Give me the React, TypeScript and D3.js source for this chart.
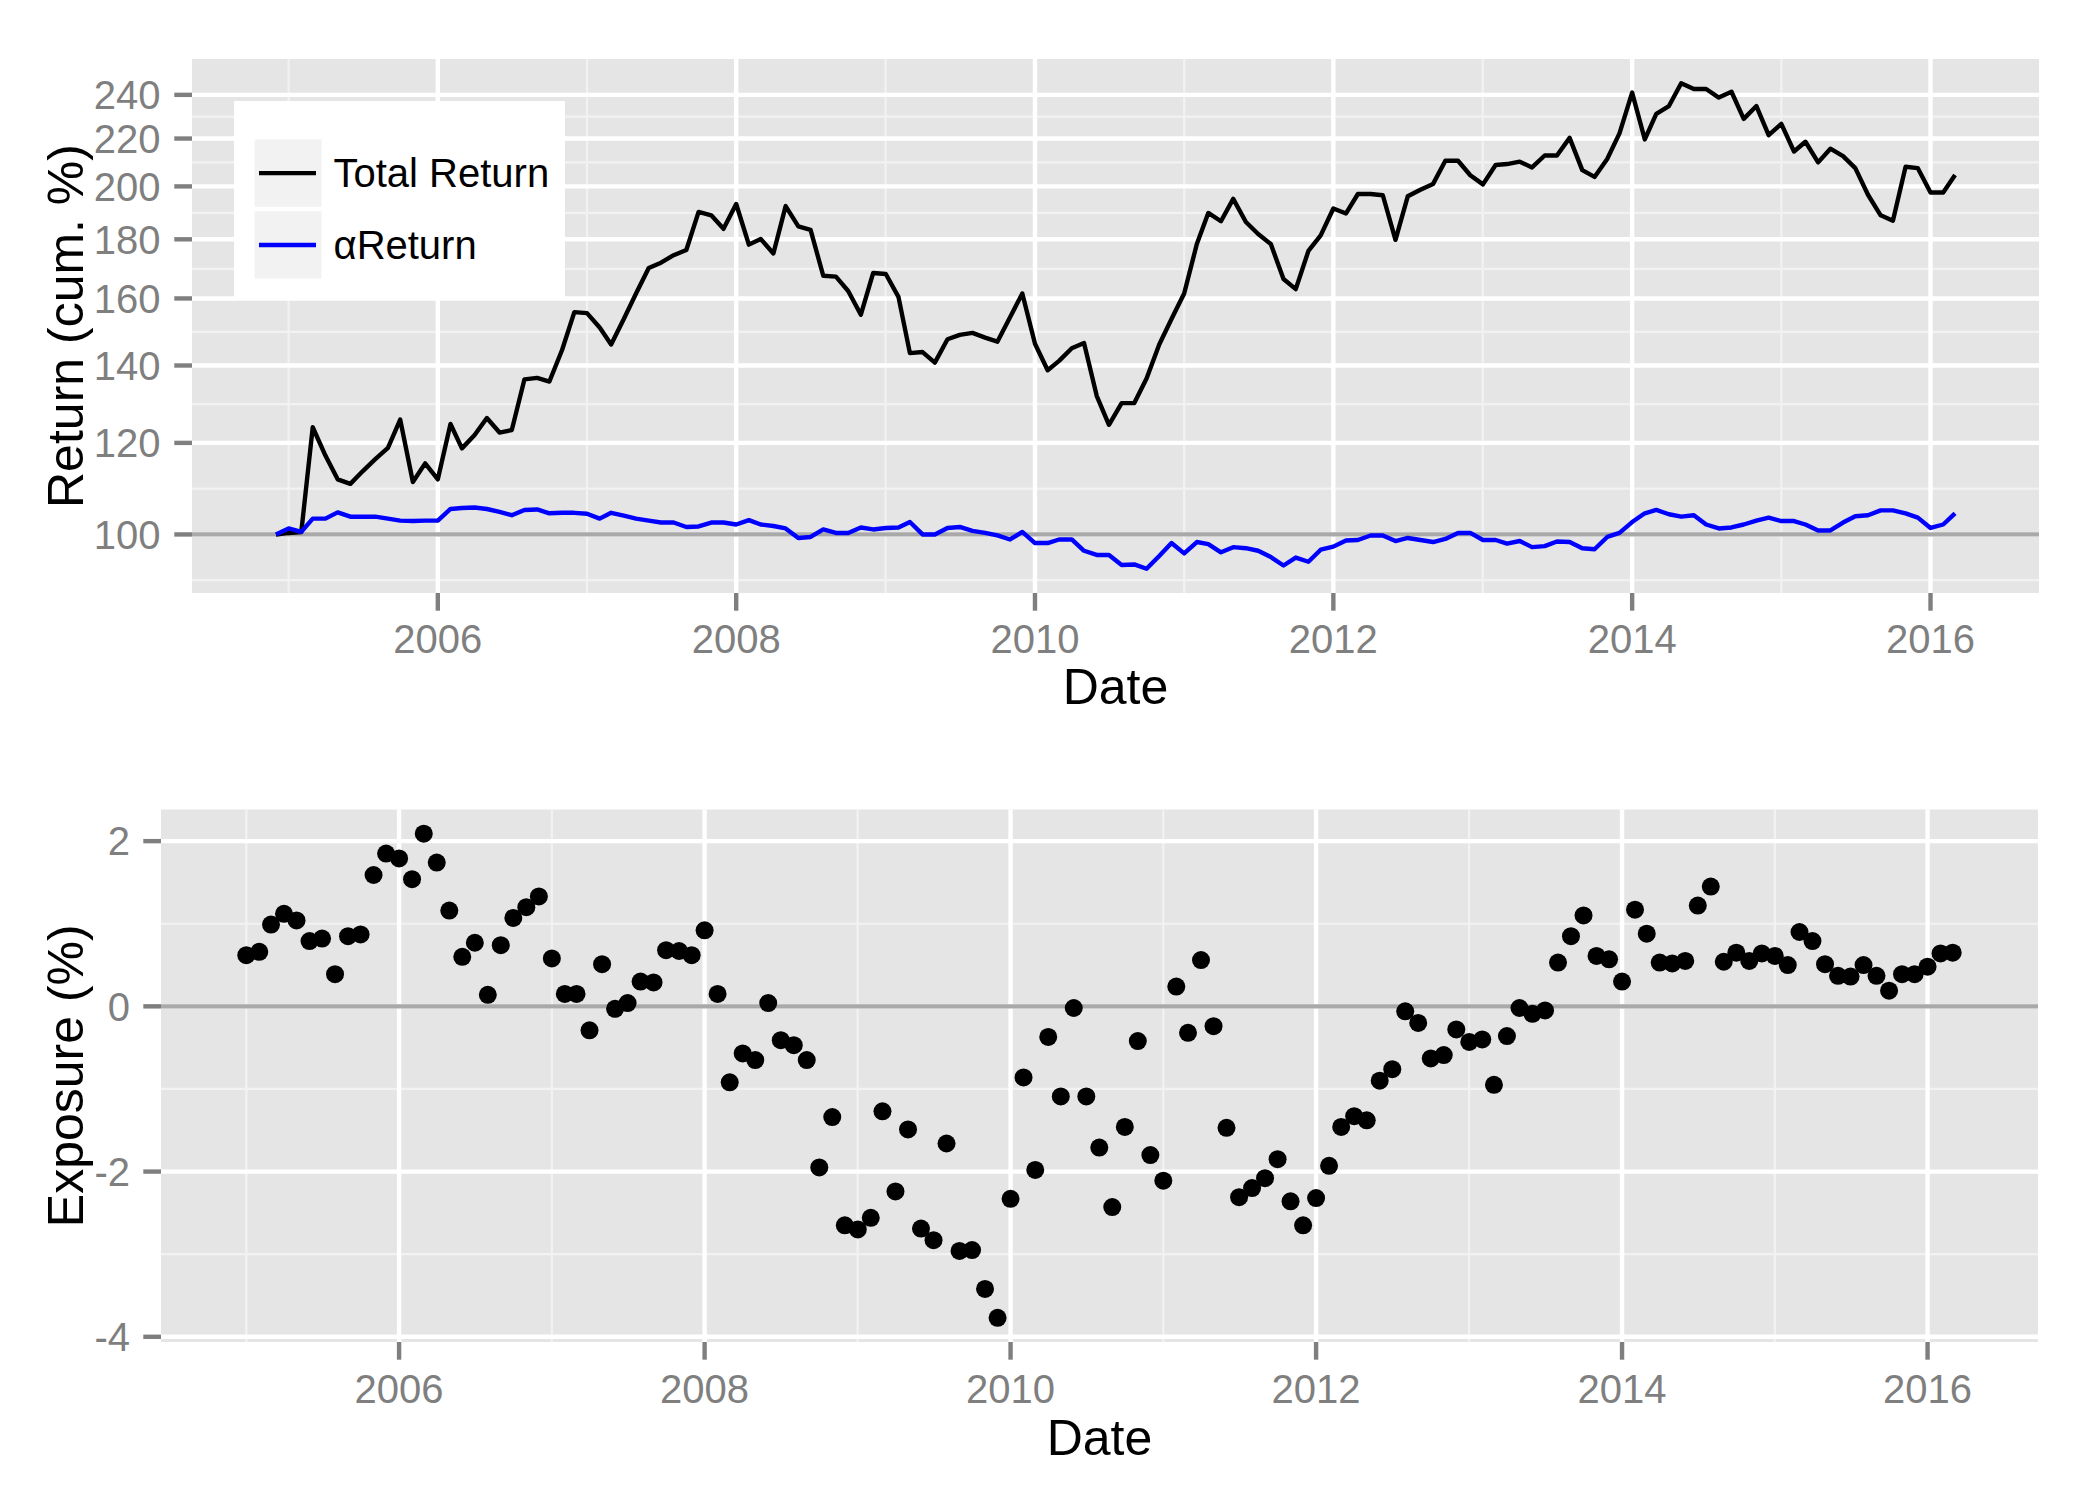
import React from 'react';
import * as d3 from 'd3';

// ---------- DATA ----------
// Monthly series, first value = Dec 2004, last = Mar 2016
const seriesStart = { year: 2004, month: 11 };
const totalReturn = [
  100,
  100.3, 100.5, 123.8, 117.0, 111.6, 110.6, 113.4, 116.2, 118.8, 125.7, 111.0, 115.2,
  111.6, 124.6, 118.7, 121.9, 126.1, 122.5, 123.1, 136.2, 136.6, 135.6, 144.4, 155.7,
  155.4, 151.0, 146.0, 153.6, 161.6, 170.0, 171.8, 174.4, 176.2, 190.1, 188.8, 183.8,
  193.1, 178.1, 180.1, 175.0, 192.3, 184.7, 183.4, 167.4, 167.1, 162.4, 154.9, 168.3,
  168.0, 160.5, 143.5, 143.8, 140.8, 147.5, 148.8, 149.4, 148.0, 146.8, 154.1, 161.6,
  146.2, 138.7, 141.3, 144.9, 146.4, 131.8, 124.4, 129.9, 129.9, 136.4, 146.0, 153.6,
  161.6, 178.3, 189.7, 186.6, 195.1, 186.3, 181.9, 178.3, 166.3, 163.0, 175.9, 181.4,
  191.4, 189.5, 197.0, 197.0, 196.5, 179.8, 196.1, 198.7, 201.0, 210.5, 210.5, 204.5,
  200.8, 208.7, 209.1, 210.1, 207.7, 212.7, 212.7, 220.3, 206.6, 203.8, 211.2, 222.3,
  241.1, 219.6, 231.1, 234.7, 245.6, 242.8, 242.8, 238.7, 241.5, 228.8, 234.7, 221.5,
  226.5, 214.4, 218.6, 209.8, 215.6, 212.4, 207.4, 196.7, 188.8, 186.8, 208.0, 207.4,
  197.6, 197.6, 204.6,
];
const alphaReturn = [
  100,
  101.2, 100.5, 103.2, 103.2, 104.5, 103.6, 103.6, 103.6, 103.2, 102.8, 102.7, 102.8,
  102.8, 105.2, 105.4, 105.5, 105.2, 104.6, 103.9, 105.0, 105.1, 104.3, 104.4, 104.4,
  104.2, 103.2, 104.4, 103.8, 103.2, 102.8, 102.4, 102.4, 101.5, 101.6, 102.4, 102.4,
  102.0, 102.9, 102.0, 101.7, 101.2, 99.3, 99.5, 101.0, 100.3, 100.3, 101.4, 101.0,
  101.3, 101.4, 102.5, 100.0, 100.0, 101.3, 101.5, 100.7, 100.3, 99.8, 99.0, 100.5,
  98.3, 98.3, 99.0, 99.0, 96.8, 96.0, 96.0, 94.1, 94.2, 93.4, 95.8, 98.3,
  96.3, 98.5, 98.1, 96.5, 97.5, 97.3, 96.8, 95.6, 94.0, 95.5, 94.7, 97.0,
  97.6, 98.8, 98.9, 99.8, 99.8, 98.7, 99.3, 98.9, 98.5, 99.1, 100.3, 100.3,
  98.9, 98.9, 98.2, 98.7, 97.5, 97.7, 98.6, 98.5, 97.3, 97.1, 99.5, 100.3,
  102.5, 104.3, 105.0, 104.1, 103.6, 103.9, 102.0, 101.2, 101.4, 102.0, 102.8, 103.4,
  102.7, 102.7, 102.0, 100.8, 100.8, 102.4, 103.7, 103.9, 104.9, 104.9, 104.3, 103.4,
  101.3, 102.0, 104.3,
];
// Monthly exposure, first value = Jan 2005, last = Mar 2016
const exposureStart = { year: 2005, month: 0 };
const exposure = [
  0.62, 0.66, 0.99, 1.12, 1.04, 0.79, 0.82, 0.39, 0.85, 0.87, 1.59, 1.85,
  1.79, 1.54, 2.09, 1.74, 1.16, 0.60, 0.77, 0.14, 0.74, 1.07, 1.20, 1.33,
  0.58, 0.15, 0.15, -0.29, 0.51, -0.03, 0.04, 0.30, 0.29, 0.68, 0.67, 0.62,
  0.92, 0.15, -0.92, -0.57, -0.65, 0.04, -0.41, -0.47, -0.65, -1.95, -1.34, -2.65,
  -2.70, -2.56, -1.27, -2.24, -1.49, -2.69, -2.83, -1.66, -2.96, -2.95, -3.42, -3.77,
  -2.33, -0.86, -1.98, -0.37, -1.09, -0.02, -1.09, -1.71, -2.43, -1.46, -0.42, -1.80,
  -2.11, 0.24, -0.32, 0.56, -0.24, -1.47, -2.31, -2.20, -2.08, -1.85, -2.36, -2.65,
  -2.32, -1.93, -1.46, -1.33, -1.38, -0.90, -0.76, -0.06, -0.20, -0.63, -0.59, -0.28,
  -0.43, -0.40, -0.95, -0.36, -0.02, -0.09, -0.05, 0.53, 0.85, 1.10, 0.61, 0.57,
  0.30, 1.17, 0.88, 0.53, 0.52, 0.55, 1.22, 1.45, 0.54, 0.65, 0.55, 0.64,
  0.61, 0.50, 0.90, 0.79, 0.51, 0.37, 0.36, 0.50, 0.37, 0.19, 0.39, 0.39,
  0.48, 0.64, 0.65,
];
const seriesNames = ['Total Return', 'αReturn'];
const seriesColors = ['#000000', '#0000FF'];
const topYTicks = [100, 120, 140, 160, 180, 200, 220, 240];
const bottomYTicks = [2, 0, -2, -4];
const xTickYears = [2006, 2008, 2010, 2012, 2014, 2016];
const topRefValue = 100;
const bottomRefValue = 0;
const xTitle = 'Date';
const topYTitle = 'Return (cum. %)';
const bottomYTitle = 'Exposure (%)';

// ---------- STYLE / LAYOUT ----------
const FONT = "'Liberation Sans', Arial, Helvetica, sans-serif";
const GREY50 = '#7F7F7F';
const PANEL_BG = '#E5E5E5';
const MINOR = '#F2F2F2';
const HLINE = '#A9A9A9';
const MAJOR_W = 4.4;
const MINOR_W = 2.2;
const TICK_LEN = 17.7;
const TICK_FS = 40;
const TITLE_FS = 50;

const T = { l: 192, r: 2039, t: 59, b: 593 };
const B = { l: 161, r: 2038, t: 809.5, b: 1342 };

function monthSeq(y: number, m: number, n: number): Date[] {
  return Array.from({ length: n }, (_, i) => new Date(Date.UTC(y, m + i, 1)));
}
function expand(lo: number, hi: number, f = 0.05): [number, number] {
  const r = hi - lo;
  return [lo - r * f, hi + r * f];
}
function minorBetween(majors: number[], lo: number, hi: number): number[] {
  const b = majors.slice().sort((a, c) => a - c);
  const bd = b[1] - b[0];
  const ext = [b[0] - bd, ...b, b[b.length - 1] + bd];
  const out: number[] = [];
  for (let i = 0; i < ext.length - 1; i++) {
    const m = (ext[i] + ext[i + 1]) / 2;
    if (m > lo && m < hi) out.push(m);
  }
  return out;
}

export default function App() {
  const topDates = monthSeq(seriesStart.year, seriesStart.month, totalReturn.length);
  const botDates = monthSeq(exposureStart.year, exposureStart.month, exposure.length);

  const topXDom = expand(+topDates[0], +topDates[topDates.length - 1]);
  const botXDom = expand(+botDates[0], +botDates[botDates.length - 1]);
  const tx = d3.scaleUtc().domain(topXDom.map((v) => new Date(v))).range([T.l, T.r]);
  const bx = d3.scaleUtc().domain(botXDom.map((v) => new Date(v))).range([B.l, B.r]);

  const allTop = [...totalReturn, ...alphaReturn];
  const logDom = expand(Math.log10(d3.min(allTop)!), Math.log10(d3.max(allTop)!));
  const ty = d3.scaleLog().domain([10 ** logDom[0], 10 ** logDom[1]]).range([T.b, T.t]);

  const byDom = expand(d3.min(exposure)!, d3.max(exposure)!);
  const by = d3.scaleLinear().domain(byDom).range([B.b, B.t]);

  const xMajorDates = xTickYears.map((y) => Date.UTC(y, 0, 1));
  const topXMinor = minorBetween(xMajorDates, topXDom[0], topXDom[1]);
  const botXMinor = minorBetween(xMajorDates, botXDom[0], botXDom[1]);
  const topYMinor = minorBetween(topYTicks.map((v) => Math.log10(v)), logDom[0], logDom[1]).map((v) => 10 ** v);
  const botYMinor = minorBetween(bottomYTicks, byDom[0], byDom[1]);

  const line = d3
    .line<[Date, number]>()
    .x((d) => tx(d[0]))
    .y((d) => ty(d[1]));
  const totalPath = line(topDates.map((d, i) => [d, totalReturn[i]]))!;
  const alphaPath = line(topDates.map((d, i) => [d, alphaReturn[i]]))!;

  const legend = { x: 234, y: 101, w: 331, h: 196 };
  const keyX = 254.6;
  const keyW = 66.9;
  const keyRows = [
    { y0: 139.4, y1: 206.8 },
    { y0: 211.2, y1: 278.7 },
  ];

  return (
    <svg
      width={2100}
      height={1500}
      viewBox="0 0 2100 1500"
      style={{ position: 'absolute', left: 0, top: 0, display: 'block' }}
      fontFamily={FONT}
    >
      <rect x={0} y={0} width={2100} height={1500} fill="#FFFFFF" />

      {/* ================= TOP PANEL ================= */}
      <rect x={T.l} y={T.t} width={T.r - T.l} height={T.b - T.t} fill={PANEL_BG} />
      {topXMinor.map((v) => (
        <line key={'txm' + v} x1={tx(new Date(v))} x2={tx(new Date(v))} y1={T.t} y2={T.b} stroke={MINOR} strokeWidth={MINOR_W} />
      ))}
      {topYMinor.map((v) => (
        <line key={'tym' + v} x1={T.l} x2={T.r} y1={ty(v)} y2={ty(v)} stroke={MINOR} strokeWidth={MINOR_W} />
      ))}
      {xMajorDates.map((v) => (
        <line key={'txM' + v} x1={tx(new Date(v))} x2={tx(new Date(v))} y1={T.t} y2={T.b} stroke="#FFFFFF" strokeWidth={MAJOR_W} />
      ))}
      {topYTicks.map((v) => (
        <line key={'tyM' + v} x1={T.l} x2={T.r} y1={ty(v)} y2={ty(v)} stroke="#FFFFFF" strokeWidth={MAJOR_W} />
      ))}
      <line x1={T.l} x2={T.r} y1={ty(topRefValue)} y2={ty(topRefValue)} stroke={HLINE} strokeWidth={4.2} />
      <path d={totalPath} fill="none" stroke={seriesColors[0]} strokeWidth={4.4} strokeLinejoin="round" />
      <path d={alphaPath} fill="none" stroke={seriesColors[1]} strokeWidth={4.4} strokeLinejoin="round" />

      {/* top axes */}
      {xMajorDates.map((v, i) => (
        <g key={'txt' + v}>
          <line x1={tx(new Date(v))} x2={tx(new Date(v))} y1={T.b} y2={T.b + TICK_LEN} stroke={GREY50} strokeWidth={4.4} />
          <text x={tx(new Date(v))} y={T.b + 60} textAnchor="middle" fontSize={TICK_FS} fill={GREY50}>
            {xTickYears[i]}
          </text>
        </g>
      ))}
      {topYTicks.map((v) => (
        <g key={'tyt' + v}>
          <line x1={T.l - TICK_LEN} x2={T.l} y1={ty(v)} y2={ty(v)} stroke={GREY50} strokeWidth={4.4} />
          <text x={T.l - 31.5} y={ty(v) + 14.3} textAnchor="end" fontSize={TICK_FS} fill={GREY50}>
            {v}
          </text>
        </g>
      ))}
      <text x={(T.l + T.r) / 2} y={T.b + 111} textAnchor="middle" fontSize={TITLE_FS} fill="#000">
        {xTitle}
      </text>
      <text
        transform={`translate(83, ${(T.t + T.b) / 2}) rotate(-90)`}
        textAnchor="middle"
        fontSize={TITLE_FS}
        fill="#000"
      >
        {topYTitle}
      </text>

      {/* legend */}
      <rect x={legend.x} y={legend.y} width={legend.w} height={legend.h} fill="#FFFFFF" />
      {keyRows.map((k, i) => (
        <g key={'leg' + i}>
          <rect x={keyX} y={k.y0} width={keyW} height={k.y1 - k.y0} fill={MINOR} />
          <line x1={259} x2={316} y1={(k.y0 + k.y1) / 2} y2={(k.y0 + k.y1) / 2} stroke={seriesColors[i]} strokeWidth={4.4} />
          <text x={333.5} y={(k.y0 + k.y1) / 2 + 14.3} fontSize={TICK_FS} fill="#000">
            {seriesNames[i]}
          </text>
        </g>
      ))}

      {/* ================= BOTTOM PANEL ================= */}
      <rect x={B.l} y={B.t} width={B.r - B.l} height={B.b - B.t} fill={PANEL_BG} />
      {botXMinor.map((v) => (
        <line key={'bxm' + v} x1={bx(new Date(v))} x2={bx(new Date(v))} y1={B.t} y2={B.b} stroke={MINOR} strokeWidth={MINOR_W} />
      ))}
      {botYMinor.map((v) => (
        <line key={'bym' + v} x1={B.l} x2={B.r} y1={by(v)} y2={by(v)} stroke={MINOR} strokeWidth={MINOR_W} />
      ))}
      {xMajorDates.map((v) => (
        <line key={'bxM' + v} x1={bx(new Date(v))} x2={bx(new Date(v))} y1={B.t} y2={B.b} stroke="#FFFFFF" strokeWidth={MAJOR_W} />
      ))}
      {bottomYTicks.map((v) => (
        <line key={'byM' + v} x1={B.l} x2={B.r} y1={by(v)} y2={by(v)} stroke="#FFFFFF" strokeWidth={MAJOR_W} />
      ))}
      <line x1={B.l} x2={B.r} y1={by(bottomRefValue)} y2={by(bottomRefValue)} stroke={HLINE} strokeWidth={4.2} />
      {exposure.map((v, i) => (
        <circle key={'pt' + i} cx={bx(botDates[i])} cy={by(v)} r={9} fill="#000000" />
      ))}

      {/* bottom axes */}
      {xMajorDates.map((v, i) => (
        <g key={'bxt' + v}>
          <line x1={bx(new Date(v))} x2={bx(new Date(v))} y1={B.b} y2={B.b + TICK_LEN} stroke={GREY50} strokeWidth={4.4} />
          <text x={bx(new Date(v))} y={B.b + 61} textAnchor="middle" fontSize={TICK_FS} fill={GREY50}>
            {xTickYears[i]}
          </text>
        </g>
      ))}
      {bottomYTicks.map((v) => (
        <g key={'byt' + v}>
          <line x1={B.l - TICK_LEN} x2={B.l} y1={by(v)} y2={by(v)} stroke={GREY50} strokeWidth={4.4} />
          <text x={B.l - 31} y={by(v) + 14.3} textAnchor="end" fontSize={TICK_FS} fill={GREY50}>
            {v}
          </text>
        </g>
      ))}
      <text x={(B.l + B.r) / 2} y={B.b + 113} textAnchor="middle" fontSize={TITLE_FS} fill="#000">
        {xTitle}
      </text>
      <text
        transform={`translate(83, ${(B.t + B.b) / 2}) rotate(-90)`}
        textAnchor="middle"
        fontSize={TITLE_FS}
        fill="#000"
      >
        {bottomYTitle}
      </text>
    </svg>
  );
}
